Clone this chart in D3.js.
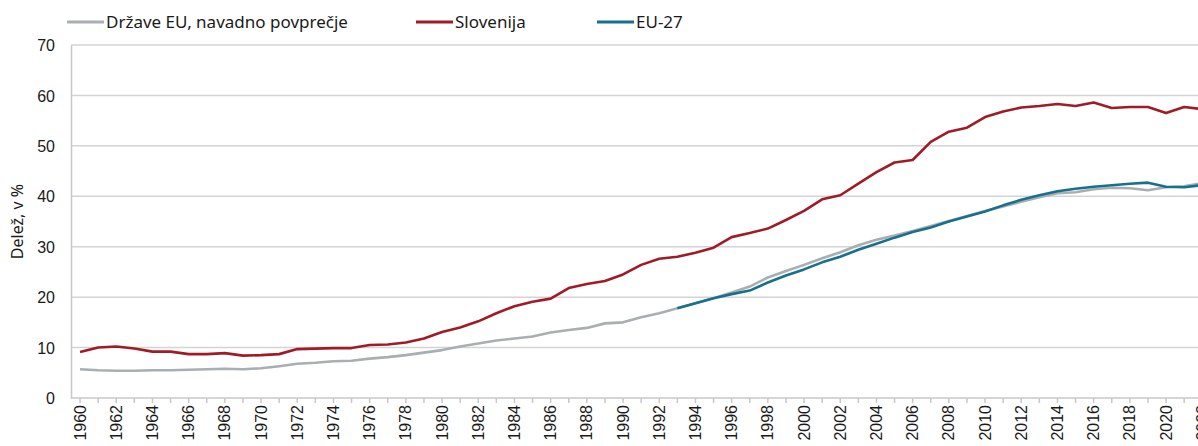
<!DOCTYPE html>
<html>
<head>
<meta charset="utf-8">
<script src="https://cdn.jsdelivr.net/npm/d3@7"></script>
<style>
  body { margin: 0; background: #fff; overflow: hidden; }
  svg { display: block; font-family: "Noto Sans", sans-serif; }
  .grid line { stroke: #d4d4d4; stroke-width: 1.5; }
  .axis path, .axis line { stroke: #c8c8c8; stroke-width: 1.5; }
  .axis text { fill: #1a1a1a; font-size: 16px; }
</style>
</head>
<body>
<svg id="chart"></svg>
<script>
// years on the x axis
const years = d3.range(1960, 2023);

// Države EU, navadno povprečje (grey)
const drzaveEU = [5.7, 5.5, 5.4, 5.4, 5.5, 5.5, 5.6, 5.7, 5.8, 5.7,
  5.9, 6.3, 6.8, 7.0, 7.3, 7.4, 7.8, 8.1, 8.5, 9.0,
  9.5, 10.2, 10.8, 11.4, 11.8, 12.2, 13.0, 13.5, 13.9, 14.8,
  15.0, 16.0, 16.8, 17.8, 18.8, 19.8, 20.9, 22.1, 23.9, 25.2,
  26.4, 27.7, 28.9, 30.3, 31.4, 32.2, 33.1, 34.1, 35.1, 36.1,
  37.1, 38.0, 38.9, 39.8, 40.6, 40.8, 41.4, 41.7, 41.6, 41.2,
  41.8, 42.0, 42.6];

// Slovenija (red)
const slovenija = [9.1, 10.0, 10.2, 9.8, 9.2, 9.2, 8.7, 8.7, 8.9, 8.4,
  8.5, 8.7, 9.7, 9.8, 9.9, 9.9, 10.5, 10.6, 11.0, 11.8,
  13.1, 14.0, 15.2, 16.8, 18.2, 19.1, 19.7, 21.8, 22.6, 23.2,
  24.5, 26.4, 27.6, 28.0, 28.8, 29.8, 31.9, 32.7, 33.6, 35.3,
  37.1, 39.4, 40.2, 42.5, 44.8, 46.7, 47.2, 50.8, 52.8, 53.6,
  55.7, 56.8, 57.6, 57.9, 58.3, 57.9, 58.6, 57.5, 57.7, 57.7,
  56.5, 57.7, 57.3];

// EU-27 (teal), from 1993 onwards
const eu27Years = d3.range(1993, 2023);
const eu27 = [17.8, 18.8, 19.8, 20.6, 21.3, 22.9, 24.3, 25.5, 26.9, 28.0,
  29.4, 30.6, 31.8, 32.9, 33.8, 35.0, 36.0, 37.0, 38.2, 39.3,
  40.2, 41.0, 41.5, 41.9, 42.2, 42.5, 42.7, 41.9, 41.8, 42.2];

const yTicks = [0, 10, 20, 30, 40, 50, 60, 70];
const yLabel = 'Delež, v %';

const series = [
  { name: 'Države EU, navadno povprečje', color: '#a9aeb3', years: years, values: drzaveEU },
  { name: 'Slovenija', color: '#a01b26', years: years, values: slovenija },
  { name: 'EU-27', color: '#17708d', years: eu27Years, values: eu27 }
];

const width = 1198, height = 446;
const margin = { top: 45, right: 0, bottom: 48, left: 71 };

const svg = d3.select('#chart').attr('width', width).attr('height', height);

// the band axis runs a bit past the window edge, like the original
const xScale = d3.scaleBand()
  .domain(years)
  .range([margin.left, margin.left + years.length * 18.1]);
const xPos = y => xScale(y) + xScale.bandwidth() / 2;

const yScale = d3.scaleLinear()
  .domain([0, 70])
  .range([height - margin.bottom, margin.top]);

// gridlines
svg.append('g').attr('class', 'grid')
  .selectAll('line')
  .data(yTicks.filter(d => d > 0))
  .join('line')
  .attr('x1', margin.left).attr('x2', width)
  .attr('y1', d => yScale(d)).attr('y2', d => yScale(d));

// y axis
const yAxisG = svg.append('g')
  .attr('class', 'axis y-axis')
  .attr('transform', `translate(${margin.left},0)`)
  .call(d3.axisLeft(yScale).tickValues(yTicks).tickSize(0).tickPadding(16));
yAxisG.selectAll('text').attr('dy', '0.35em');

// x axis
const xAxisG = svg.append('g')
  .attr('class', 'axis x-axis')
  .attr('transform', `translate(0,${yScale(0)})`)
  .call(d3.axisBottom(xScale).tickSize(5).tickSizeOuter(0)
    .tickFormat(d => d % 2 === 0 ? d : ''));
xAxisG.select('.domain').attr('d', `M${margin.left},0H${width}`);
xAxisG.selectAll('text')
  .attr('transform', 'rotate(-90)')
  .attr('text-anchor', 'end')
  .attr('x', -7)
  .attr('y', 0)
  .attr('dy', '0.35em');

// y label
svg.append('text')
  .attr('transform', `translate(23,${yScale(35)}) rotate(-90)`)
  .attr('text-anchor', 'middle')
  .attr('font-size', 16)
  .attr('fill', '#1a1a1a')
  .text(yLabel);

// lines
const line = d3.line()
  .x(d => xPos(d[0]))
  .y(d => yScale(d[1]));

svg.append('g')
  .selectAll('path')
  .data(series)
  .join('path')
  .attr('fill', 'none')
  .attr('stroke', d => d.color)
  .attr('stroke-width', 2.6)
  .attr('stroke-linejoin', 'round')
  .attr('d', d => line(d.years.map((y, i) => [y, d.values[i]])));

// legend
const legendX = [67, 416, 597];
const legend = svg.append('g')
  .selectAll('g')
  .data(series)
  .join('g')
  .attr('transform', (d, i) => `translate(${legendX[i]},22)`);
legend.append('line')
  .attr('x1', 0).attr('x2', 37)
  .attr('stroke', d => d.color)
  .attr('stroke-width', 3);
legend.append('text')
  .attr('x', 39)
  .attr('dy', '0.35em')
  .attr('font-size', 17)
  .attr('fill', '#1a1a1a')
  .text(d => d.name);
</script>
</body>
</html>
